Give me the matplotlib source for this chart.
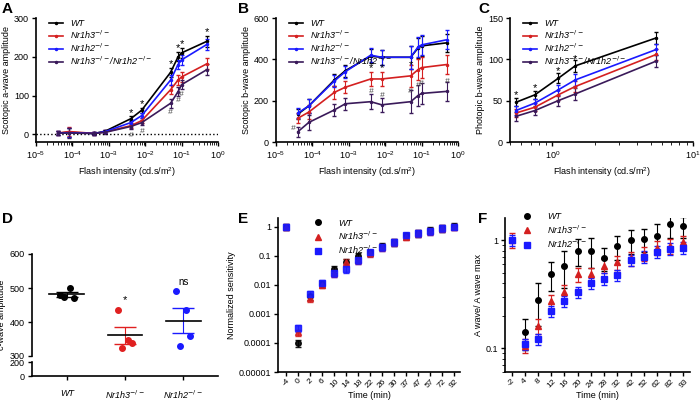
import matplotlib
matplotlib.use("Agg")
import matplotlib.pyplot as plt
from matplotlib.lines import Line2D
import numpy as np

plt.rcParams['font.family'] = ['Liberation Sans', 'DejaVu Sans']
plt.rcParams['font.size'] = 6.5
plt.rcParams['mathtext.default'] = 'it'

# ---------- data ----------
labels4 = ["WT", "Nr1h3$^{-/-}$", "Nr1h2$^{-/-}$", "Nr1h3$^{-/-}$/Nr1h2$^{-/-}$"]
colors4 = ["black", "#d42020", "#1a1aff", "#3a1a5a"]

scot_x = [4e-5, 8e-5, 4e-4, 8e-4, 4e-3, 8e-3, 5e-2, 8e-2, 1e-1, 5e-1]
a_wt = [3, 5, 2, 8, 40, 62, 160, 200, 210, 240]
a_r = [3, 7, 2, 6, 22, 35, 115, 140, 148, 182]
a_b = [3, 4, 2, 7, 30, 48, 140, 180, 192, 232]
a_p = [3, 3, 2, 5, 20, 30, 80, 110, 128, 167]
a_err = [6, 12, 5, 4, 6, 6, 12, 12, 12, 14]

b_wt = [135, 175, 300, 345, 415, 410, 410, 455, 465, 480]
b_r = [115, 145, 240, 265, 305, 305, 320, 350, 360, 375]
b_b = [140, 175, 295, 340, 420, 410, 410, 460, 470, 495]
b_p = [50, 95, 155, 185, 195, 180, 195, 225, 235, 245]
b_err = [25, 35, 30, 30, 35, 35, 55, 50, 50, 45]

phot_x = [0.55, 0.75, 1.1, 1.45, 5.5]
c_wt = [48, 57, 77, 92, 126]
c_r = [35, 42, 57, 67, 106]
c_b = [38, 47, 63, 75, 112]
c_p = [31, 38, 50, 58, 98]
c_err = [5, 5, 6, 7, 7]

d_groups = ["WT", "Nr1h3$^{-/-}$", "Nr1h2$^{-/-}$"]
d_colors = ["black", "#e02020", "#1a1aff"]
d_vals = [[480, 500, 470, 475], [435, 348, 338, 325], [490, 435, 360, 330]]
d_sem = [7, 25, 36]

e_ticks = ["-4", "0", "2", "6", "10", "14", "18", "22", "26", "30", "37", "47", "57", "72", "92"]
e_wt = [1.0, 1e-4, 0.004, 0.011, 0.035, 0.06, 0.1, 0.13, 0.22, 0.3, 0.5, 0.6, 0.8, 0.9, 1.1]
e_r = [1.0, 2.3e-4, 0.0035, 0.010, 0.025, 0.06, 0.07, 0.12, 0.2, 0.3, 0.45, 0.6, 0.7, 0.9, 1.0]
e_b = [1.0, 3.3e-4, 0.005, 0.012, 0.025, 0.035, 0.07, 0.13, 0.2, 0.3, 0.5, 0.6, 0.7, 0.9, 1.0]

f_ticks = ["-2", "4", "8", "12", "16", "20", "24", "28", "32", "42", "52", "62", "82", "93"]
f_wt = [1.0, 0.14, 0.28, 0.48, 0.58, 0.8, 0.8, 0.68, 0.88, 1.0, 1.02, 1.1, 1.4, 1.35]
f_r = [1.0, 0.105, 0.16, 0.27, 0.33, 0.48, 0.48, 0.58, 0.62, 0.68, 0.75, 0.85, 0.88, 0.95]
f_b = [1.0, 0.108, 0.12, 0.22, 0.27, 0.33, 0.40, 0.44, 0.47, 0.65, 0.70, 0.78, 0.83, 0.85]
f_wt_err = [0, 0.045, 0.12, 0.14, 0.22, 0.22, 0.25, 0.16, 0.22, 0.25, 0.25, 0.3, 0.35, 0.3]

fig = plt.figure(figsize=(7, 4.12), dpi=100)
W, H = 700, 412
def ax_px(l, r, t, b):
    return fig.add_axes([l / W, 1 - b / H, (r - l) / W, (b - t) / H])

def style(ax):
    for s in ["top", "right"]:
        ax.spines[s].set_visible(False)
    ax.spines["left"].set_linewidth(1.2)
    ax.spines["bottom"].set_linewidth(1.2)
    ax.tick_params(width=1, length=3, labelsize=6.5, pad=2)

legprop = {'style': 'italic', 'size': 6.5}

def line_panel(ax, x, series, err, ylabel):
    handles = []
    for y, c, lab in zip(series, colors4, labels4):
        ax.errorbar(x, y, yerr=err, color=c, lw=1.2, marker='.', ms=3,
                    capsize=1.5, elinewidth=0.8)
        handles.append(Line2D([], [], color=c, lw=1.2, marker='.', ms=3, label=lab))
    ax.set_xscale('log')
    ax.set_ylabel(ylabel, fontsize=6.5, labelpad=2)
    ax.set_xlabel("Flash intensity (cd.s/m$^\\mathregular{2}$)", fontsize=6.5, labelpad=3)
    ax.legend(handles=handles, loc='upper left', frameon=False, handlelength=1.6,
              borderaxespad=0.0, labelspacing=0.05, prop=legprop, bbox_to_anchor=(0.05, 1.02))
    style(ax)

# A
axA = ax_px(36, 218, 18, 142)
line_panel(axA, scot_x, [a_wt, a_r, a_b, a_p], a_err, "Scotopic a-wave amplitude")
axA.axhline(0, color='black', ls=':', lw=1)
axA.set_xlim(1e-5, 1); axA.set_ylim(-20, 300); axA.set_yticks([0, 100, 200, 300])
axA.set_xticks([1e-5, 1e-4, 1e-3, 1e-2, 1e-1, 1])

# B
axB = ax_px(276, 458, 18, 142)
line_panel(axB, scot_x, [b_wt, b_r, b_b, b_p], b_err, "Scotopic b-wave amplitude")
axB.set_xlim(1e-5, 1); axB.set_ylim(0, 600); axB.set_yticks([0, 200, 400, 600])
axB.set_xticks([1e-5, 1e-4, 1e-3, 1e-2, 1e-1, 1])

# C
axC = ax_px(510, 693, 18, 142)
line_panel(axC, phot_x, [c_wt, c_r, c_b, c_p], c_err, "Photopic b-wave amplitude")
axC.set_xlim(0.5, 10); axC.set_ylim(0, 150); axC.set_yticks([0, 50, 100, 150])
axC.set_xticks([1, 10])

# significance marks
for x, y in zip(scot_x[4:], [a + e for a, e in zip(a_wt[4:], a_err[4:])]):
    axA.text(x, y + 2, "*", ha='center', fontsize=8)
for x, y in zip(scot_x[4:9], a_p[4:9]):
    axA.text(x, y - 28, "#", ha='center', fontsize=6, style='italic', color='#444')
for i in [4, 5, 6]:
    axB.text(scot_x[i], b_r[i] + 40, "*", ha='center', fontsize=8)
for i in [0, 4, 5, 6, 7, 8, 9]:
    axB.text(scot_x[i] * (0.75 if i == 0 else 1), b_p[i] + 40 if i else b_p[i] + 10, "#",
             ha='center', fontsize=6, style='italic', color='#444')
for i in range(4):
    axC.text(phot_x[i], c_wt[i] + 5, "*", ha='center', fontsize=8)

# D (broken axis)
axD = ax_px(32, 218, 254, 356)
axD2 = ax_px(32, 218, 362, 376)
for i, (vals, c) in enumerate(zip(d_vals, d_colors)):
    xs = i + np.array([-0.12, 0.05, 0.12, -0.05])
    axD.scatter(xs, vals, color=c, s=16, zorder=3)
    m = np.mean(vals)
    axD.plot([i - 0.3, i + 0.3], [m, m], color='black', lw=1.2)
    axD.errorbar(i, m, yerr=d_sem[i], color=c, capsize=8, lw=0.8, zorder=1)
axD.text(1, 455, "*", ha='center', fontsize=8)
axD.text(2, 510, "ns", ha='center', fontsize=7)
axD.set_ylim(300, 600); axD.set_yticks([300, 400, 500, 600])
axD.set_xlim(-0.6, 2.6)
axD.set_xticks([])
style(axD)
axD.spines['bottom'].set_visible(False)
axD.set_ylabel("c-wave amplitude", fontsize=6.5, labelpad=2)
axD.yaxis.set_label_coords(-0.14, 0.4)
axD2.set_ylim(0, 200); axD2.set_yticks([0, 200]); axD2.set_xlim(-0.6, 2.6)
axD2.set_xticks([0, 1, 2]); axD2.set_xticklabels(d_groups, style='italic', fontsize=6.5)
style(axD2)
axD2.tick_params(axis='x', pad=6)

def scatter_legend(ax, anchor):
    hs = [Line2D([], [], ls='', marker=m, color=c, ms=4, label=l) for m, c, l in
          zip(['o', '^', 's'], ["black", "#d42020", "#1a1aff"], ["WT", "Nr1h3$^{-/-}$", "Nr1h2$^{-/-}$"])]
    ax.legend(handles=hs, loc='upper left', frameon=False, prop=legprop,
              bbox_to_anchor=anchor, labelspacing=0.2, handletextpad=1.2, borderaxespad=0)

# E
axE = ax_px(278, 460, 218, 372)
xe = np.arange(len(e_ticks))
for y, c, m in zip([e_wt, e_r, e_b], ["black", "#d42020", "#1a1aff"], ['o', '^', 's']):
    axE.errorbar(xe, y, yerr=np.array(y) * 0.25, fmt=m, color=c, ms=4, capsize=2,
                 elinewidth=0.8, alpha=0.9)
axE.set_yscale('log'); axE.set_ylim(1e-5, 2)
axE.set_yticks([1e-5, 1e-4, 1e-3, 1e-2, 0.1, 1])
axE.set_yticklabels(["0.00001", "0.0001", "0.001", "0.01", "0.1", "1"])
axE.minorticks_off()
axE.set_xticks(xe); axE.set_xticklabels(e_ticks, rotation=45, fontsize=6)
axE.set_xlim(-0.7, len(xe) - 0.5)
axE.set_xlabel("Time (min)", fontsize=6.5, labelpad=1)
axE.set_ylabel("Normalized sensitivity", fontsize=6.5, labelpad=2)
scatter_legend(axE, (0.15, 1.02))
style(axE)
axE.tick_params(axis='x', labelsize=6, pad=1)

# F
axF = ax_px(505, 690, 218, 372)
xf = np.arange(len(f_ticks))
errs = [f_wt_err, np.array(f_r) * 0.15, np.array(f_b) * 0.12]
for y, e, c, m in zip([f_wt, f_r, f_b], errs, ["black", "#d42020", "#1a1aff"], ['o', '^', 's']):
    axF.errorbar(xf, y, yerr=e, fmt=m, color=c, ms=4, capsize=2, elinewidth=0.8)
axF.set_yscale('log'); axF.set_ylim(0.06, 1.6)
axF.set_yticks([0.1, 1]); axF.set_yticklabels(["0.1", "1"])
axF.set_xticks(xf); axF.set_xticklabels(f_ticks, rotation=45)
axF.set_xlim(-0.5, len(xf) - 0.5)
axF.set_xlabel("Time (min)", fontsize=6.5, labelpad=1)
axF.set_ylabel("A wave/ A wave max", fontsize=6.5, labelpad=2)
scatter_legend(axF, (0.05, 1.06))
style(axF)
axF.tick_params(axis='x', labelsize=6, pad=1)

for lab, x, y in [("A", 2, 2), ("B", 238, 2), ("C", 478, 2), ("D", 2, 212), ("E", 238, 212), ("F", 478, 212)]:
    fig.text(x / W, 1 - y / H, lab, fontsize=11, fontweight='bold', va='top')

fig.savefig("out.png", dpi=100)
